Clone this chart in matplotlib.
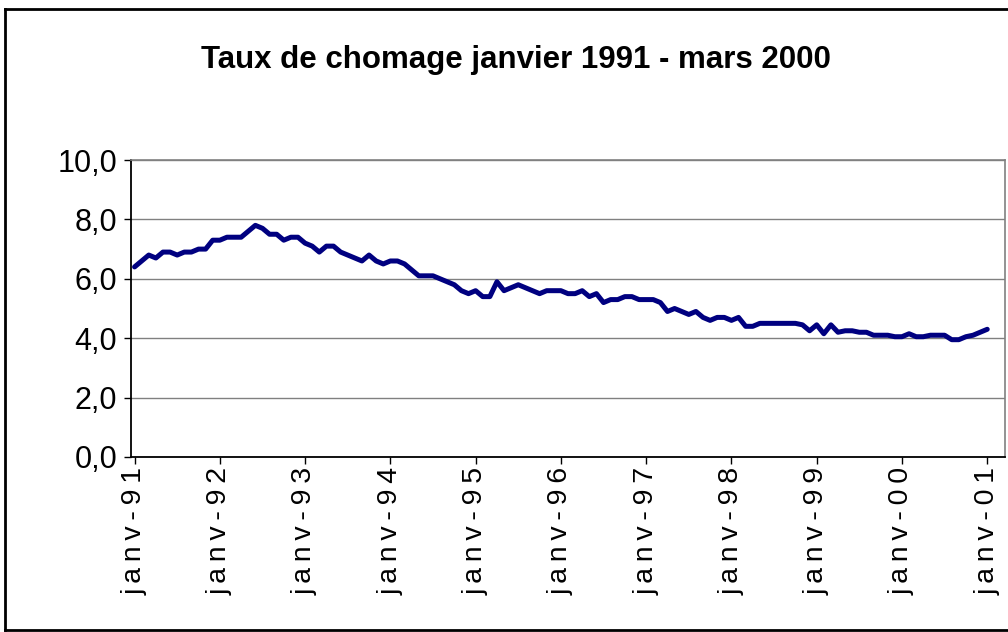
import matplotlib
matplotlib.use('Agg')
import matplotlib.pyplot as plt
from matplotlib import font_manager
from matplotlib.lines import Line2D

# taux de chomage mensuel, janv-91 -> janv-01
taux = [6.4, 6.6, 6.8, 6.7, 6.9, 6.9, 6.8, 6.9, 6.9, 7.0, 7.0, 7.3,
        7.3, 7.4, 7.4, 7.4, 7.6, 7.8, 7.7, 7.5, 7.5, 7.3, 7.4, 7.4,
        7.2, 7.1, 6.9, 7.1, 7.1, 6.9, 6.8, 6.7, 6.6, 6.8, 6.6, 6.5,
        6.6, 6.6, 6.5, 6.3, 6.1, 6.1, 6.1, 6.0, 5.9, 5.8, 5.6, 5.5,
        5.6, 5.4, 5.4, 5.9, 5.6, 5.7, 5.8, 5.7, 5.6, 5.5, 5.6, 5.6,
        5.6, 5.5, 5.5, 5.6, 5.4, 5.5, 5.2, 5.3, 5.3, 5.4, 5.4, 5.3,
        5.3, 5.3, 5.2, 4.9, 5.0, 4.9, 4.8, 4.9, 4.7, 4.6, 4.7, 4.7,
        4.6, 4.7, 4.4, 4.4, 4.5, 4.5, 4.5, 4.5, 4.5, 4.5, 4.45, 4.25,
        4.45, 4.15, 4.45, 4.2, 4.25, 4.25, 4.2, 4.2, 4.1, 4.1, 4.1, 4.05,
        4.05, 4.15, 4.05, 4.05, 4.1, 4.1, 4.1, 3.95, 3.95, 4.05, 4.1, 4.2,
        4.3]
mois = list(range(len(taux)))

tick_mois = [0, 12, 24, 36, 48, 60, 72, 84, 96, 108, 120]
tick_labels = ['janv-91', 'janv-92', 'janv-93', 'janv-94', 'janv-95', 'janv-96',
               'janv-97', 'janv-98', 'janv-99', 'janv-00', 'janv-01']
y_ticks = [0, 2, 4, 6, 8, 10]
y_labels = ['0,0', '2,0', '4,0', '6,0', '8,0', '10,0']

titre = 'Taux de chomage janvier 1991 - mars 2000'

plt.rcParams['font.family'] = ['Liberation Sans', 'DejaVu Sans']

installed = {f.name for f in font_manager.fontManager.ttflist}
if 'Liberation Sans Narrow' in installed:
    title_family = ['Liberation Sans Narrow', 'Liberation Sans']
    title_size = 27
else:
    title_family = ['Liberation Sans', 'DejaVu Sans']
    title_size = 22.5

fig = plt.figure(figsize=(10.08, 6.32), dpi=100)
ax = fig.add_axes([131/1008, 1-457/632, (1005-131)/1008, (457-160)/632])

ax.plot(mois, taux, color='#000080', lw=3.6, solid_capstyle='round',
        solid_joinstyle='round', zorder=3)

ax.set_xlim(-0.5, 122.5)
ax.set_ylim(0, 10)
ax.set_yticks(y_ticks)
ax.set_yticklabels(y_labels, fontsize=22)
ax.set_xticks(tick_mois)
# Excel affiche les libelles avec un espacement large
ax.set_xticklabels(['\u2009'.join(t) for t in tick_labels], rotation=90,
                   fontsize=20.5, va='top', ha='center')
ax.tick_params(axis='y', length=5, width=1, pad=5, color='black')
ax.tick_params(axis='x', length=5, width=1, pad=2, color='black')

ax.grid(axis='y', color='#808080', lw=1)
ax.set_axisbelow(True)
for s in ['top', 'right']:
    ax.spines[s].set_color('#808080')
    ax.spines[s].set_linewidth(1.2)
ax.spines['left'].set_color('black')
ax.spines['left'].set_linewidth(1.3)
ax.spines['bottom'].set_color('black')
ax.spines['bottom'].set_linewidth(1.3)

fig.text(516/1008, 1-60/632, titre, ha='center', va='center',
         fontsize=title_size, fontweight='bold', family=title_family)

# bordure de la zone de graphique
bx0, bx1 = 5/1008, 1.01
by0, by1 = 1-630/632, 1-9/632
fig.add_artist(Line2D([bx0, bx0], [by0, by1], color='black', lw=2, transform=fig.transFigure))
fig.add_artist(Line2D([bx0, bx1], [by1, by1], color='black', lw=2, transform=fig.transFigure))
fig.add_artist(Line2D([bx0, bx1], [by0, by0], color='black', lw=2, transform=fig.transFigure))

fig.savefig('out.png', dpi=100)
